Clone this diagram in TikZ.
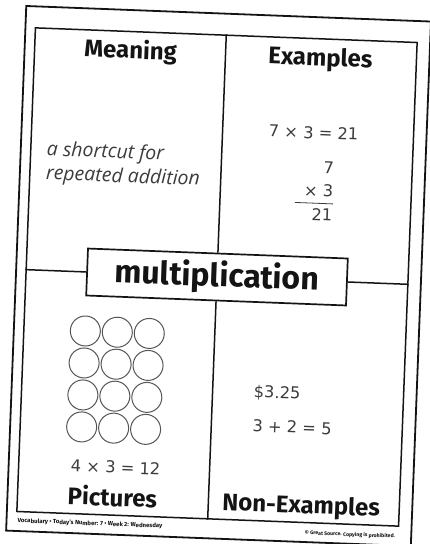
\documentclass[tikz,border=0pt]{standalone}
\usepackage{fontspec}
\setmainfont{Fira Sans}
\newfontfamily\numfont{DejaVu Sans}
\newfontfamily\handfont{Open Sans}
\definecolor{mInk}{HTML}{141414}
\definecolor{mPencil}{HTML}{3C3C3C}
\definecolor{mRing}{HTML}{555555}
\usepackage{tikz}
\usetikzlibrary{positioning}

\begin{document}
\begin{tikzpicture}[x=1pt, y=-1pt,
  sheetbox/.style={draw=mInk, line width=1.8pt, minimum width=405pt, minimum height=525pt, inner sep=0pt},
  framebox/.style={draw=mInk, line width=1.5pt, minimum width=382pt, minimum height=484pt, inner sep=0pt},
  titlebox/.style={draw=mInk, line width=1.7pt, fill=white, minimum width=260pt, minimum height=47pt, inner sep=0pt, text=mInk, font=\fontsize{32}{36}\selectfont\bfseries},
  divider/.style={draw=mInk, line width=1.5pt},
  heading/.style={anchor=base, inner sep=0pt, text=mInk, font=\fontsize{24}{28}\selectfont\bfseries},
  numtext/.style={anchor=base, inner sep=0pt, text=mPencil, font=\numfont\fontsize{16.3}{19}\selectfont},
  handtext/.style={anchor=north west, align=left, inner sep=0pt, text=mPencil, font=\handfont\itshape\fontsize{19.5}{24}\selectfont},
  footer/.style={inner sep=0pt, text=mInk, font=\fontsize{6}{7}\selectfont\bfseries}]
\useasboundingbox[fill=white] (0,0) rectangle (430,544);
\begin{scope}[rotate around={-2.2:(217,277)}, every node/.append style={transform shape}]
% frames
\node[sheetbox] (sheet) at (218.5,276) {};
\node[framebox] (frame) at (217,277) {};
\node[titlebox] (title) at (217,277) {multiplication};
\draw[divider] (frame.north) -- (title.north);
\draw[divider] (title.south) -- (frame.south);
\draw[divider] (frame.west) -- (title.west);
\draw[divider] (title.east) -- (frame.east);
% headings
\node[heading] (meaning) at (122,62) {Meaning};
\node[heading] (examples) at (312,62) {Examples};
\node[heading] (pictures) at (121,510) {Pictures};
\node[heading] (nonex) at (310,510) {Non-Examples};
% meaning
\node[handtext] (definition) at (42,147) {a shortcut for\\repeated addition};
% examples
\node[numtext] (fact) at (308,135) {7 × 3 = 21};
\node[numtext, anchor=base east] (top) at (330,169) {7};
\node[numtext, anchor=base east] (mid) at (330,193) {× 3};
\draw[mPencil, line width=0.8pt] (292,199.5) -- (330,199.5);
\node[numtext, anchor=base east] (prod) at (330,217) {21};
% pictures
\foreach \r in {0,1,2,3}
  \foreach \c in {0,1,2}
    \draw[mRing, line width=1pt] (87.5+32*\c, 336+32*\r) circle[radius=15pt];
\node[numtext] (array) at (123,477) {4 × 3 = 12};
% non-examples
\node[numtext, anchor=base west] (money) at (258,396) {\$3.25};
\node[numtext, anchor=base west] (addsum) at (258,430) {3 + 2 = 5};
% footer
\node[footer, anchor=base west] (foot) at (27,530) {Vocabulary • Today's Number: 7 • Week 2: Wednesday};
\node[footer, anchor=base east, font=\fontsize{5.2}{6}\selectfont\bfseries] (copy) at (405,531) {© Great Source. Copying is prohibited.};
\end{scope}
\end{tikzpicture}
\end{document}
